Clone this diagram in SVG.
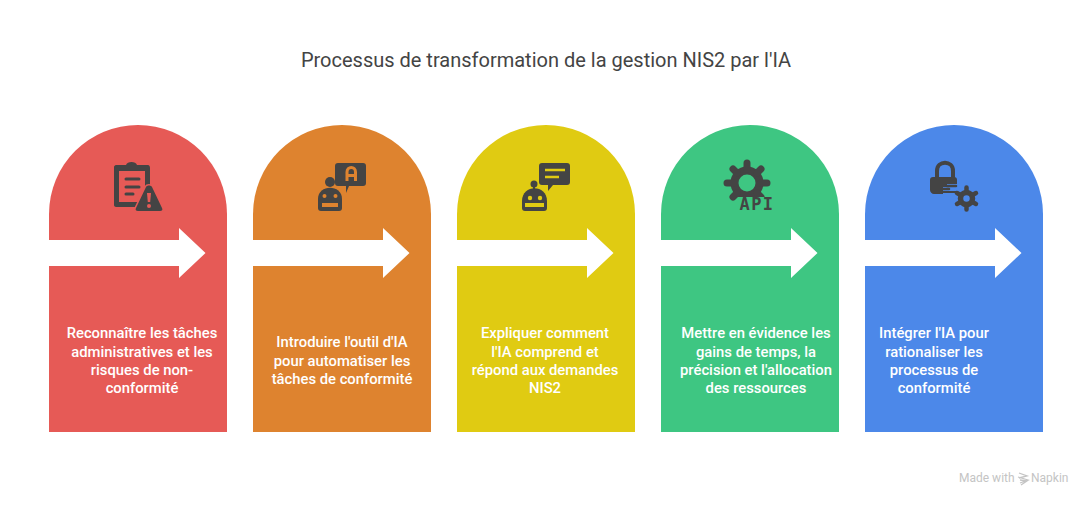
<svg xmlns="http://www.w3.org/2000/svg" width="1092" height="505" viewBox="0 0 1092 505">
<style>
.t{font-family:Roboto,"Liberation Sans",sans-serif}
.title{font-size:20px;fill:#444;text-anchor:middle}
.d{font-size:14.800px;font-weight:500;fill:#fff;text-anchor:middle}
.i{fill:#444}
.s{fill:none;stroke:#444;stroke-linecap:round}
</style>
<defs>
<path id="card" d="M0 89A89 89 0 0 1 178 89V307H0Z"/>
<path id="arrow" d="M0 115H130V103L156.500 128L130 153V141H0Z" fill="#fff"/>
</defs>
<rect width="1092" height="505" fill="#fff"/>
<text class="t title" x="546" y="67">Processus de transformation de la gestion NIS2 par l'IA</text>
<g id="node-1" transform="translate(49 125)">
<use href="#card" fill="#e65a56"/><use href="#arrow"/>
<path class="i" d="M67 40H77C78 36 87 36 88 40H99C100 40 101 41 101 43V80H67C66 82 65 81 65 80V42C65 41 66 40 67 40ZM65 78H88V82H67C66 82 65 81 65 80Z"/>
<rect x="70" y="46" width="26" height="31" fill="#e65a56"/>
<path class="s" stroke-width="3" d="M77 54H90M77 62H90M77 69H84"/>
<path class="i" stroke="#e65a56" stroke-width="3" paint-order="stroke" stroke-linejoin="round" d="M97 62C98 60 102 60 103 62L113 83C114 85 113 86 111 86H89C87 86 86 85 87 83Z"/>
<path d="M98 68H102L101.200 77H98.800Z" fill="#e65a56"/><circle cx="100" cy="81" r="2" fill="#e65a56"/>
<text class="t d"><tspan x="93" y="213">Reconnaître les tâches</tspan><tspan x="93" y="232">administratives et les</tspan><tspan x="93" y="250">risques de non-</tspan><tspan x="93" y="268">conformité</tspan></text>
</g>
<g id="node-2" transform="translate(253 125)">
<use href="#card" fill="#de832f"/><use href="#arrow"/>
<circle class="i" cx="77" cy="57" r="5"/>
<path class="i" d="M65 74C65 59 89 59 89 74V83C89 85 88 86 86 86H68C66 86 65 85 65 83Z"/>
<circle cx="71.500" cy="71" r="2" fill="#de832f"/><circle cx="82.500" cy="71" r="2" fill="#de832f"/>
<rect x="69" y="78" width="16" height="4" fill="#de832f"/>
<path class="i" d="M85 38H110C112 38 113 39 113 41V58C113 60 112 61 110 61H96L93 68V61H85C83 61 82 60 82 58V41C82 39 83 38 85 38Z"/>
<path d="M94 56V47C94 41 102.500 41 102.500 47V56M94 50.500H102.500" fill="none" stroke="#de832f" stroke-width="3"/>
<text class="t d"><tspan x="89" y="222">Introduire l'outil d'IA</tspan><tspan x="89" y="241">pour automatiser les</tspan><tspan x="89" y="259">tâches de conformité</tspan></text>
</g>
<g id="node-3" transform="translate(457 125)">
<use href="#card" fill="#e0cb12"/><use href="#arrow"/>
<circle class="i" cx="77" cy="59" r="3.500"/>
<path class="s" stroke-width="2" d="M77 60V66"/>
<path class="i" d="M65 76C65 59 90 59 90 76V83C90 85 89 86 87 86H68C66 86 65 85 65 83Z"/>
<circle cx="73" cy="73" r="2.200" fill="#e0cb12"/><circle cx="83" cy="73" r="2.200" fill="#e0cb12"/>
<rect x="68" y="78" width="19" height="4" fill="#e0cb12"/>
<path class="i" d="M85 38H110C112 38 113 39 113 41V57C113 59 112 60 110 60H96L91 66V60H85C83 60 82 59 82 57V41C82 39 83 38 85 38Z"/>
<path d="M88 45H108M88 52H102" fill="none" stroke="#e0cb12" stroke-width="2.500"/>
<text class="t d"><tspan x="88" y="213">Expliquer comment</tspan><tspan x="88" y="232">l'IA comprend et</tspan><tspan x="88" y="250">répond aux demandes</tspan><tspan x="88" y="268">NIS2</tspan></text>
</g>
<g id="node-4" transform="translate(661 125)">
<use href="#card" fill="#3ec682"/><use href="#arrow"/>
<g transform="translate(86 58)">
<circle r="12.500" fill="none" stroke="#444" stroke-width="8"/>
<path class="s" stroke-width="7" stroke-linecap="butt" d="M0 -20V-14M0 14V20M-20 0H-14M14 0H20M-14 -14L-10 -10M10 -10L14 -14M-14 14L-10 10M10 10L14 14"/>
</g>
<path fill="#3ec682" d="M77 72H116V90H77Z"/>
<text x="96" y="85" font-family="'DejaVu Sans Mono','Liberation Mono',monospace" font-size="17" font-weight="700" fill="#444" text-anchor="middle" letter-spacing="1.500">API</text>
<text class="t d"><tspan x="95" y="213">Mettre en évidence les</tspan><tspan x="95" y="232">gains de temps, la</tspan><tspan x="95" y="250">précision et l'allocation</tspan><tspan x="95" y="268">des ressources</tspan></text>
</g>
<g id="node-5" transform="translate(865 125)">
<use href="#card" fill="#4c88e9"/><use href="#arrow"/>
<path class="s" stroke-width="4" d="M72 52V46C72 35 88 35 88 46V52"/>
<path class="i" d="M68 52H89C91 52 92 53 92 55V59H82V62H78V69H69C67 69 65 67 65 65V55C65 53 66 52 68 52Z"/>
<path class="s" stroke-width="2.500" d="M82 61H91M77 64H84"/>
<path class="s" stroke-width="2" d="M78 67H92L97 71"/>
<g transform="translate(101.500 73.500)">
<circle r="6" fill="none" stroke="#444" stroke-width="5.500"/>
<path class="s" stroke-width="4.500" d="M0 -11V-7M0 7V11M-9.500 -5.500L-6 -3.500M9.500 -5.500L6 -3.500M-9.500 5.500L-6 3.500M9.500 5.500L6 3.500"/>
</g>
<text class="t d"><tspan x="69" y="213">Intégrer l'IA pour</tspan><tspan x="69" y="232">rationaliser les</tspan><tspan x="69" y="250">processus de</tspan><tspan x="69" y="268">conformité</tspan></text>
</g>
<g id="brand">
<text class="t" x="959" y="482" font-size="12" fill="#c4c4c4">Made with</text>
<path d="M1019 473L1027 476L1019 478M1018 477L1028 480L1020 483M1020 480L1027 481L1021 485" fill="none" stroke="#c4c4c4" stroke-width="1.300"/>
<text class="t" x="1031" y="482" font-size="12" fill="#c4c4c4">Napkin</text>
</g>
</svg>
